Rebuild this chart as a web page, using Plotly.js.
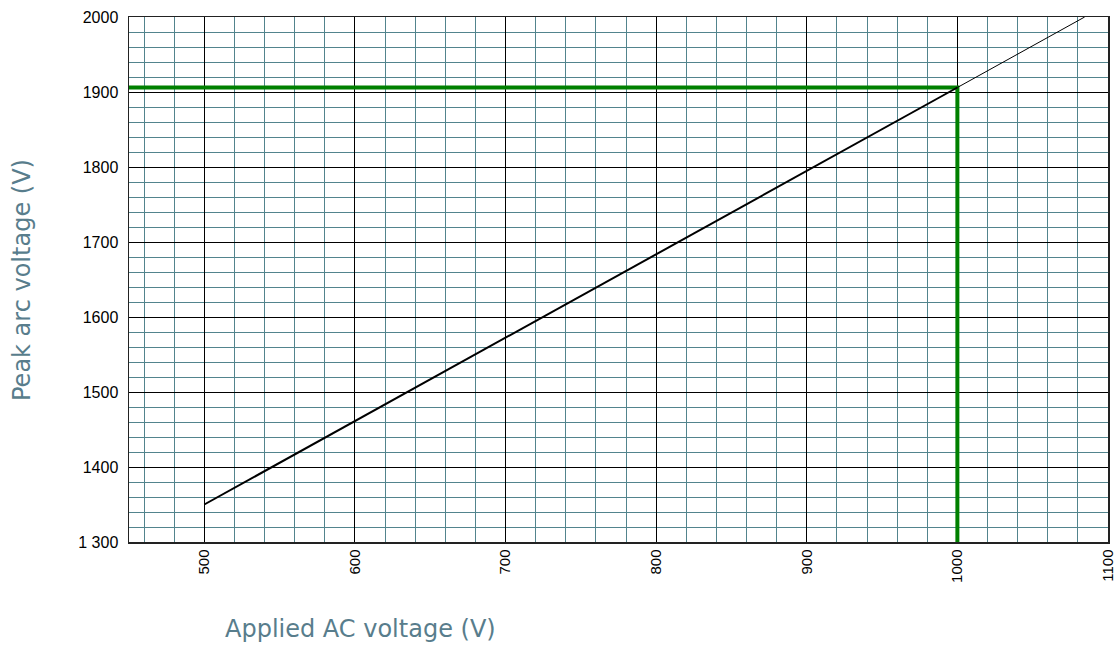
<!DOCTYPE html>
<html>
<head>
<meta charset="utf-8">
<script src="https://cdn.plot.ly/plotly-3.0.1.min.js"></script>
<style>html,body{margin:0;padding:0;background:#fff;}#chart{width:1116px;height:647px;}</style>
</head>
<body>
<div id="chart"></div>
<script>
// Data
const curveX = [500, 1000];
const curveY = [1350, 1906];
const extX = [1000, 1084.5];
const extY = [1906, 2000];
const markX = [450, 1000, 1000];
const markY = [1906, 1906, 1300];
const xTickVals = [500, 600, 700, 800, 900, 1000, 1100];
const xTickText = ['500', '600', '700', '800', '900', '1000', '1100'];
const yTickVals = [1300, 1400, 1500, 1600, 1700, 1800, 1900, 2000];
const yTickText = ['1 300', '1400', '1500', '1600', '1700', '1800', '1900', '2000'];
const xTitle = 'Applied AC voltage (V)';
const yTitle = 'Peak arc voltage (V)';

const minorColor = '#52848d';
const titleColor = '#587d8c';
const titleFont = {family: 'DejaVu Sans, Verdana, sans-serif', size: 24, color: titleColor};

const traces = [
  {x: markX, y: markY, mode: 'lines', line: {color: '#008000', width: 4}, hoverinfo: 'skip'},
  {x: curveX, y: curveY, mode: 'lines', line: {color: '#000000', width: 2}},
  {x: extX, y: extY, mode: 'lines', line: {color: '#000000', width: 1}}
];

const layout = {
  width: 1116, height: 647,
  margin: {l: 129, r: 8, t: 17, b: 105},
  paper_bgcolor: '#ffffff', plot_bgcolor: '#ffffff',
  showlegend: false,
  xaxis: {
    range: [450, 1100], tickmode: 'array', tickvals: xTickVals, ticktext: xTickText,
    tickangle: -90, tickfont: {family: 'Liberation Sans, Arial', size: 15, color: '#000'},
    showgrid: true, gridcolor: '#000000', gridwidth: 1,
    minor: {dtick: 20, tick0: 0, showgrid: true, gridcolor: minorColor, gridwidth: 1, ticks: ''},
    showline: true, linecolor: '#222', linewidth: 1.5, mirror: true,
    ticks: '', zeroline: false, fixedrange: true
  },
  yaxis: {
    range: [1300, 2000], tickmode: 'array', tickvals: yTickVals, ticktext: yTickText,
    tickfont: {family: 'Liberation Sans, Arial', size: 16, color: '#000'},
    showgrid: true, gridcolor: '#000000', gridwidth: 1,
    minor: {dtick: 20, tick0: 0, showgrid: true, gridcolor: minorColor, gridwidth: 1, ticks: ''},
    showline: true, linecolor: '#222', linewidth: 1.5, mirror: true,
    ticks: '', ticklabelstandoff: 6, zeroline: false, fixedrange: true
  },
  annotations: [
    {text: xTitle, xref: 'paper', yref: 'paper', x: (222.7 - 129) / 979, y: (542 - 629) / 525,
     xanchor: 'left', yanchor: 'middle', showarrow: false, font: titleFont},
    {text: yTitle, xref: 'paper', yref: 'paper', x: (22 - 129) / 979, y: (542 - 280) / 525,
     xanchor: 'center', yanchor: 'middle', textangle: -90, showarrow: false, font: titleFont}
  ]
};

Plotly.newPlot('chart', traces, layout, {displayModeBar: false, staticPlot: true});
</script>
</body>
</html>
